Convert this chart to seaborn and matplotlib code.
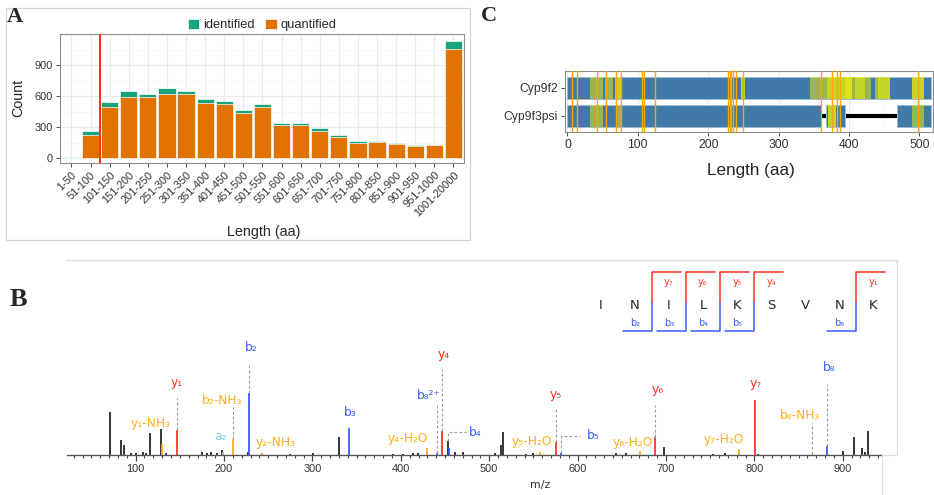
import matplotlib
matplotlib.use("Agg")
import matplotlib.pyplot as plt
from matplotlib.lines import Line2D
from matplotlib.patches import Rectangle
from matplotlib.ticker import MultipleLocator
import seaborn as sns

# ---------------- panel A: protein length distribution ----------------
length_bins = ["1-50", "51-100", "101-150", "151-200", "201-250", "251-300",
               "301-350", "351-400", "401-450", "451-500", "501-550", "551-600",
               "601-650", "651-700", "701-750", "751-800", "801-850", "851-900",
               "901-950", "951-1000", "1001-20000"]
identified = [10, 258, 545, 645, 623, 677, 648, 571, 552, 468, 523,
              335, 335, 287, 223, 165, 168, 145, 129, 126, 1135]
quantified = [5, 219, 490, 594, 587, 616, 623, 529, 519, 435, 497,
              316, 323, 265, 206, 145, 158, 135, 119, 123, 1052]
length_cutoff = 1.5  # between 51-100 and 101-150

# ---------------- panel C: Cyp9f2 / Cyp9f3psi coverage ----------------
cyp_genes = ["Cyp9f2", "Cyp9f3psi"]
f2_blocks = [(0, 517)]
f3_blocks = [(0, 361), (368, 395), (468, 517)]
f3_gaps = [(361, 368), (395, 468)]
# peptide hits, drawn as stacked half-transparent layers
f2_peptides = [(32, 51), (53, 65), (68, 77), (68, 77), (247, 252), (247, 252),
               (344, 404), (369, 404), (394, 404), (404, 431), (408, 423),
               (437, 458), (442, 458), (489, 506), (489, 506)]
f3_peptides = [(32, 50), (70, 77), (370, 382), (370, 382), (489, 506)]
variant_sites = [6.7, 13.3, 41.7, 55.4, 68.7, 75.8, 106.5, 108.5, 124,
                 228.5, 230.5, 233, 235, 240, 249, 360.4, 375.6, 382.7, 387.4, 497.5]

# ---------------- panel B: MS/MS spectrum of INILKSVNK ----------------
peptide = ["I", "N", "I", "L", "K", "S", "V", "N", "K"]
b_ions = [2, 3, 4, 5, 8]
y_ions = [7, 6, 5, 4, 1]

other_mz = [71.0, 83.3, 86.3, 94.7, 100.3, 108.6, 111.3, 116.3, 128.9, 134.0,
            174.7, 180.3, 185.2, 191.6, 197.3, 227.4, 274.7, 301.0, 330.4, 391.5,
            402.8, 414.0, 419.5, 453.6, 461.0, 470.5, 506.0, 513.0, 515.8, 542.0,
            549.0, 643.7, 655.0, 697.4, 753.0, 766.5, 803.6, 899.7, 912.3, 922.0,
            925.0, 928.8]
other_int = [69, 24, 16, 3, 3, 5, 3, 35, 42, 3,
             5, 3, 5, 3, 8, 5, 2, 3, 29, 2,
             2, 3, 3, 23, 5, 5, 3, 17, 37, 2,
             3, 3, 4, 13, 2, 3, 2, 6, 29, 11,
             5, 39]

ion_label = ["y₁-NH₃", "y₁", "a₂", "b₂-NH₃", "b₂", "y₂-NH₃", "b₃", "y₄-H₂O",
             "b₈²⁺", "y₄", "b₄", "y₅-H₂O", "y₅", "b₅", "y₆-H₂O", "y₆",
             "y₇-H₂O", "y₇", "b₈-NH₃", "b₈"]
ion_kind = ["loss", "y", "a", "loss", "b", "loss", "b", "loss",
            "b", "y", "b", "loss", "y", "b", "loss", "y",
            "loss", "y", "loss", "b"]
ion_mz = [129.6, 146.8, 199.1, 210.3, 228.4, 243.0, 341.0, 429.2,
          440.8, 446.8, 454.4, 557.3, 575.3, 581.7, 670.2, 687.9,
          782.9, 800.7, 864.7, 882.0]
ion_int = [18, 40, 5, 26, 100, 3, 43, 12,
           4, 39, 11, 5, 21, 4, 6, 30,
           10, 90, 2, 14]
label_mz = [117.0, 146.8, 195.4, 197.3, 231.2, 258.7, 343.2, 408.4,
            431.8, 448.8, 483.8, 548.0, 575.3, 617.6, 662.2, 690.5,
            765.8, 801.4, 851.5, 884.6]
label_int = [51, 117, 30, 89, 175, 21, 69, 26,
             97, 163, 37, 22, 98, 31, 21, 106,
             25, 116, 64, 142]
dash_top = [0, 92, 0, 78, 150, 0, 0, 0,
            81, 140, 0, 0, 74, 0, 0, 81,
            0, 0, 52, 116]
# bent leader lines (b4, b5): x, bottom, top, x end
elbow_mz = [453.6, 581.7]
elbow_low = [23, 4]
elbow_high = [37, 31]
elbow_end = [474, 603]

GREEN = "#15a47e"
ORANGE = "#e07300"
CYP_BLUE = "#3f7ba6"
ION_COLORS = {"y": "#ff3322", "b": "#3a5cff", "a": "#87ceeb", "loss": "#ffae1a"}

W, H = 934, 495

sns.set_theme(style="ticks")
plt.rcParams["font.family"] = ["Liberation Sans", "DejaVu Sans"]

fig = plt.figure(figsize=(W / 100, H / 100), dpi=100)


def fig_box(x0, y0, x1, y1):
    return [x0 / W, 1 - y1 / H, (x1 - x0) / W, (y1 - y0) / H]


def fig_line(xs, ys, color="#dcdcdc", lw=0.9):
    fig.add_artist(Line2D([x / W for x in xs], [1 - y / H for y in ys],
                          transform=fig.transFigure, color=color, lw=lw))


# ---------- A ----------
fig.add_artist(Rectangle((5.5 / W, 1 - 239.5 / H), 464.5 / W, 232 / H,
                         transform=fig.transFigure, fill=False,
                         edgecolor="#d4d4d4", lw=0.9))
ax_a = fig.add_axes(fig_box(60, 34, 464, 163))
sns.barplot(x=length_bins, y=identified, color=GREEN, saturation=1, width=0.9,
            edgecolor="white", linewidth=0.5, label="identified", ax=ax_a)
sns.barplot(x=length_bins, y=quantified, color=ORANGE, saturation=1, width=0.9,
            edgecolor="white", linewidth=0.5, label="quantified", ax=ax_a)
ax_a.axvline(length_cutoff, color="#ff2a1a", lw=1.4, zorder=5)
ax_a.set_xlim(-0.6, 20.55)
ax_a.set_ylim(-48, 1200)
ax_a.set_yticks([0, 300, 600, 900])
ax_a.yaxis.set_minor_locator(MultipleLocator(150))
ax_a.set_axisbelow(True)
ax_a.grid(which="major", color="#ebebeb", lw=0.8)
ax_a.grid(which="minor", axis="y", color="#f5f5f5", lw=0.5)
ax_a.tick_params(which="major", length=3, width=0.6, color="#333333",
                 labelsize=7.9, labelcolor="#333333", pad=2)
ax_a.tick_params(which="minor", length=0)
plt.setp(ax_a.get_xticklabels(), rotation=45, ha="right", rotation_mode="anchor")
ax_a.set_xlabel("")
ax_a.set_ylabel("")
for s in ax_a.spines.values():
    s.set_color("#8c8c8c")
    s.set_linewidth(0.8)
ax_a.legend(loc="center", bbox_to_anchor=(0.5, 1.07), ncol=2, frameon=False,
            fontsize=9.3, handlelength=0.9, handleheight=0.9, handletextpad=0.3,
            columnspacing=0.8, borderaxespad=0)
fig.text(264 / W, 1 - 232 / H, "Length (aa)", fontsize=10.3, ha="center", va="center")
fig.text(18 / W, 1 - 98 / H, "Count", fontsize=10.3, rotation=90, ha="center", va="center")
fig.text(15 / W, 1 - 17 / H, "A", fontsize=16, weight="bold",
         family="Liberation Serif", ha="center", va="center")

# ---------- C ----------
ax_c = fig.add_axes(fig_box(565, 71, 933, 132))
row_y = {"Cyp9f2": 1, "Cyp9f3psi": 0}
for start, end in f3_gaps:
    ax_c.hlines(row_y["Cyp9f3psi"], start, end, color="black", lw=3, zorder=2)
for gene, blocks in zip(cyp_genes, [f2_blocks, f3_blocks]):
    ax_c.barh([row_y[gene]] * len(blocks), [e - s for s, e in blocks],
              left=[s for s, e in blocks], height=0.8, color=CYP_BLUE,
              edgecolor="#9dbcd6", lw=0.7, zorder=3)
for gene, peps in zip(cyp_genes, [f2_peptides, f3_peptides]):
    ax_c.barh([row_y[gene]] * len(peps), [e - s for s, e in peps],
              left=[s for s, e in peps], height=0.8, color="#f2f200",
              alpha=0.5, lw=0, zorder=4)
for x in variant_sites:
    ax_c.axvline(x, color="#ffa500", lw=1.0, zorder=5)
ax_c.set_xlim(-3.5, 519.5)
ax_c.set_ylim(-0.57, 1.6)
ax_c.set_yticks([row_y[g] for g in cyp_genes])
ax_c.set_yticklabels(cyp_genes)
ax_c.set_xticks(range(0, 501, 100))
ax_c.xaxis.set_minor_locator(MultipleLocator(50))
ax_c.set_axisbelow(True)
ax_c.grid(which="major", color="#ebebeb", lw=0.8)
ax_c.grid(which="minor", axis="x", color="#f5f5f5", lw=0.5)
ax_c.tick_params(which="major", length=3, width=0.6, color="#333333",
                 labelsize=8.7, labelcolor="#333333", pad=2)
ax_c.tick_params(which="minor", length=0)
for s in ax_c.spines.values():
    s.set_color("#8c8c8c")
    s.set_linewidth(0.8)
fig.text(751 / W, 1 - 170 / H, "Length (aa)", fontsize=12.3, ha="center", va="center")
fig.text(489 / W, 1 - 16 / H, "C", fontsize=16, weight="bold",
         family="Liberation Serif", ha="center", va="center")

# ---------- B ----------
fig_line([66, 897], [259.5, 259.5])
fig_line([897, 897], [259.5, 455])
fig_line([881.7, 897], [455, 455])
fig_line([881.7, 881.7], [455, 495])

ax_b = fig.add_axes(fig_box(66.7, 259, 881.7, 455))
ax_b.patch.set_alpha(0)
ax_b.vlines(other_mz, 0, other_int, colors="black", lw=1.1)
ax_b.vlines(ion_mz, 0, ion_int, colors=[ION_COLORS[k] for k in ion_kind], lw=1.3)
for mz, lo, hi in zip(ion_mz, ion_int, dash_top):
    if hi > 0:
        ax_b.vlines(mz, lo, hi, colors="#9a9a9a", linestyles=(0, (2.5, 2)), lw=0.8)
for mz, lo, hi, end in zip(elbow_mz, elbow_low, elbow_high, elbow_end):
    ax_b.plot([mz, mz, end], [lo, hi, hi], color="#9a9a9a", ls=(0, (2.5, 2)), lw=0.8)
for txt, kind, lx, ly in zip(ion_label, ion_kind, label_mz, label_int):
    ax_b.text(lx, ly, txt, color=ION_COLORS[kind], fontsize=8.8, ha="center",
              va="center", family="DejaVu Sans")
ax_b.set_xlim(22, 944)
ax_b.set_ylim(0, 318)
ax_b.xaxis.set_major_locator(MultipleLocator(100))
ax_b.xaxis.set_minor_locator(MultipleLocator(10))
ax_b.tick_params(axis="x", which="major", length=4.5, width=0.9, color="#444444",
                 labelsize=7.9, labelcolor="#333333", pad=2)
ax_b.tick_params(axis="x", which="minor", length=2.5, width=0.8, color="#444444")
ax_b.set_yticks([])
for side in ["left", "top", "right"]:
    ax_b.spines[side].set_visible(False)
ax_b.spines["bottom"].set_color("#555555")
ax_b.spines["bottom"].set_linewidth(1.0)
fig.text(540 / W, 1 - 485 / H, "m/z", fontsize=7.9, ha="center", va="center",
         family="DejaVu Sans", color="#333333")
fig.text(18.5 / W, 1 - 299 / H, "B", fontsize=19, weight="bold",
         family="Liberation Serif", ha="center", va="center")

# fragment ladder
ax_s = fig.add_axes(fig_box(583.6, 265, 890.4, 340))
ax_s.set_xlim(-0.5, 8.5)
ax_s.set_ylim(0, 75)
ax_s.axis("off")
for i, aa in enumerate(peptide):
    ax_s.text(i, 34.3, aa, fontsize=9.5, ha="center", va="center", family="DejaVu Sans")
for n in b_ions:
    x = n - 0.5
    ax_s.plot([x - 0.85, x, x], [9, 9, 38], color=ION_COLORS["b"], lw=1.1)
    ax_s.text(x - 0.5, 16.7, f"b{chr(0x2080 + n)}", color=ION_COLORS["b"],
              fontsize=7, ha="center", va="center", family="DejaVu Sans")
for n in y_ions:
    x = len(peptide) - n - 0.5
    ax_s.plot([x, x, x + 0.85], [38, 67.7, 67.7], color=ION_COLORS["y"], lw=1.1)
    ax_s.text(x + 0.5, 57.7, f"y{chr(0x2080 + n)}", color=ION_COLORS["y"],
              fontsize=7, ha="center", va="center", family="DejaVu Sans")

fig.savefig("out.png", dpi=100)
